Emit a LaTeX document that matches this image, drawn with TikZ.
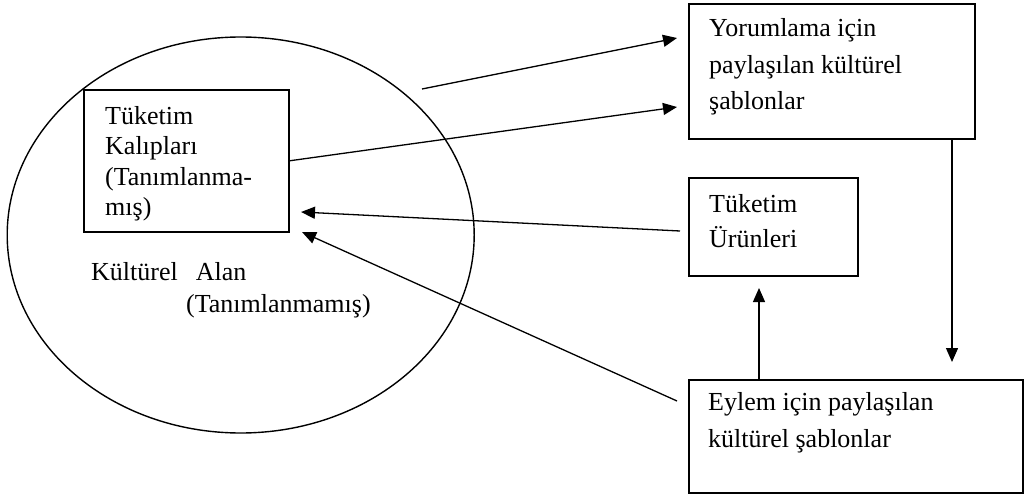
\documentclass[tikz,border=0pt]{standalone}
\usepackage{fontspec}
\setmainfont{Liberation Serif}
\usetikzlibrary{arrows.meta,shapes.geometric}

\tikzset{
  box/.style={draw, line width=1.6pt, rectangle, inner sep=0pt, anchor=north west},
  area/.style={draw, line width=1.4pt, ellipse, inner sep=0pt},
  % multi-line labels are placed by the baseline of their last line
  label/.style={inner sep=0pt, anchor=base west, align=left},
  link/.style={line width=1.3pt, -{Triangle[length=14pt,width=12pt]}}
}

\begin{document}
\begin{tikzpicture}[x=1pt, y=-1pt]
  \useasboundingbox (0,0) rectangle (1024,497);

  % cultural area and its pattern box
  \node[area, minimum width=467pt, minimum height=396pt] (alan) at (240.7,235) {};
  \node[box, minimum width=205pt, minimum height=142pt] (kalip) at (83,89) {};
  \node[label, font={\fontsize{26}{30.6}\selectfont}] (kaliptxt) at (105,215.8)
    {Tüketim\\Kalıpları\\(Tanımlanma-\\mış)};
  \node[label, font={\fontsize{26}{30}\selectfont}] (alantxt) at (91,280)
    {Kültürel\hspace{18pt}Alan};
  \node[label, font={\fontsize{26}{30}\selectfont}] (alantxt2) at (186,312)
    {(Tanımlanmamış)};

  % boxes on the right
  \node[box, minimum width=286pt, minimum height=135pt] (yorum) at (688,3) {};
  \node[label, font={\fontsize{26}{36.5}\selectfont}] (yorumtxt) at (709,110)
    {Yorumlama için\\paylaşılan kültürel\\şablonlar};

  \node[box, minimum width=169pt, minimum height=98pt] (urun) at (688,177) {};
  \node[label, font={\fontsize{26}{34.5}\selectfont}] (uruntxt) at (709,247)
    {Tüketim\\Ürünleri};

  \node[box, minimum width=334pt, minimum height=113pt] (eylem) at (688,379) {};
  \node[label, font={\fontsize{26}{37}\selectfont}] (eylemtxt) at (708,447)
    {Eylem için paylaşılan\\kültürel şablonlar};

  % free ends of the connectors
  \coordinate (a1s) at (422,89);
  \coordinate (a1e) at (677,38);
  \coordinate (a2e) at (677,107);
  \coordinate (a3s) at (680,231);
  \coordinate (a3e) at (301,212);
  \coordinate (a4s) at (677,401);
  \coordinate (a4e) at (302,232);
  \coordinate (a5e) at (952,362);
  \coordinate (a6e) at (759,288);

  % connectors
  \draw[link] (a1s) -- (a1e);
  \draw[link] (kalip.east) -- (a2e);
  \draw[link] (a3s) -- (a3e);
  \draw[link] (a4s) -- (a4e);
  \draw[link] (yorum.south -| a5e) -- (a5e);
  \draw[link] (eylem.north -| a6e) -- (a6e);
\end{tikzpicture}
\end{document}
